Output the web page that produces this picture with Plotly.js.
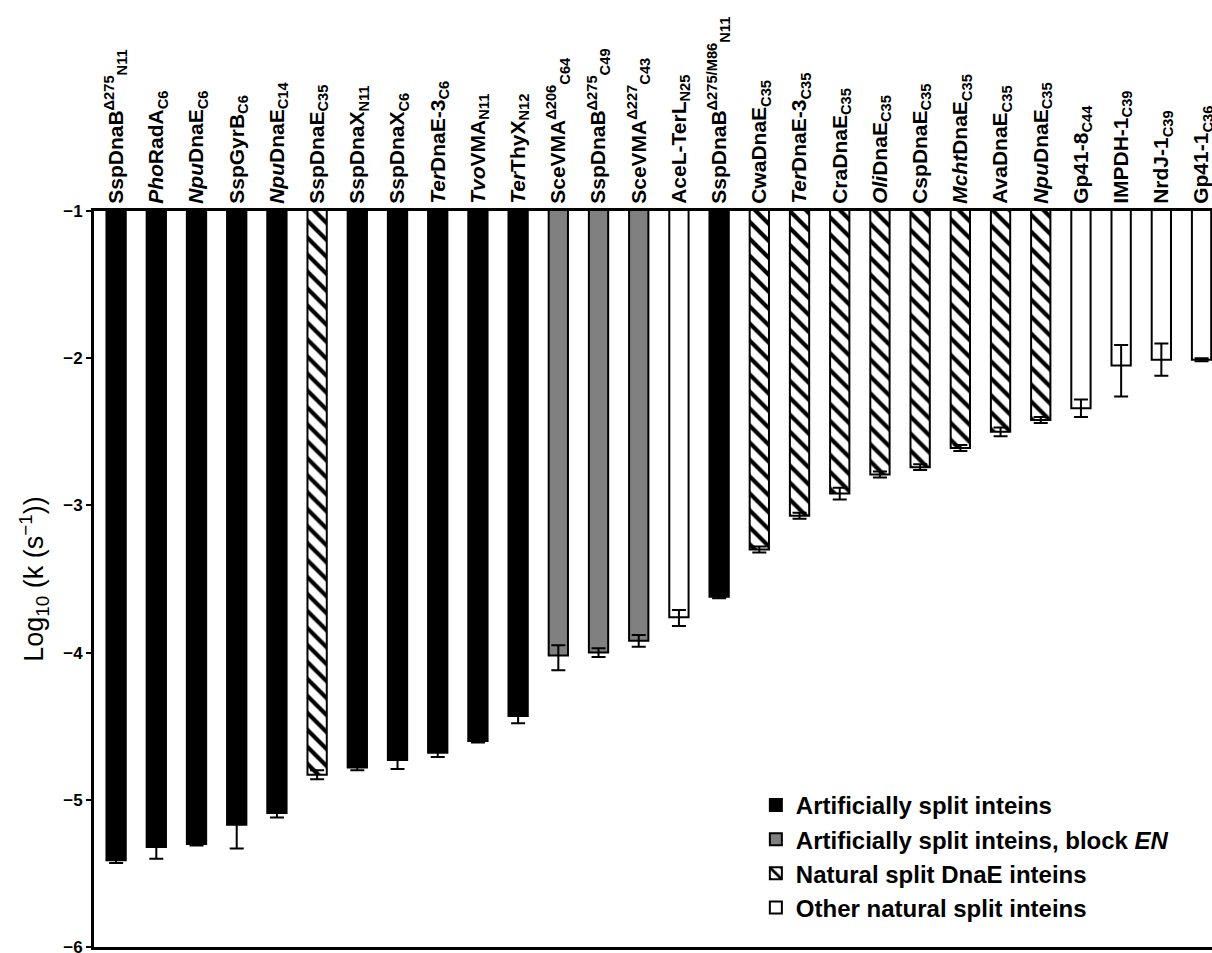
<!DOCTYPE html>
<html>
<head>
<meta charset="utf-8">
<script src="https://cdn.plot.ly/plotly-3.0.1.min.js"></script>
<style>
html,body{margin:0;padding:0;background:#fff;}
#chart{width:1212px;height:953px;}
</style>
</head>
<body>
<div id="chart"></div>
<script>
// Category tick labels (left to right)
const categories = [
  "SspDnaB<sup>Δ275</sup><sub>N11</sub>",
  "<i>Pho</i>RadA<sub>C6</sub>",
  "<i>Npu</i>DnaE<sub>C6</sub>",
  "SspGyrB<sub>C6</sub>",
  "<i>Npu</i>DnaE<sub>C14</sub>",
  "SspDnaE<sub>C35</sub>",
  "SspDnaX<sub>N11</sub>",
  "SspDnaX<sub>C6</sub>",
  "<i>Ter</i>DnaE-3<sub>C6</sub>",
  "<i>Tvo</i>VMA<sub>N11</sub>",
  "<i>Ter</i>ThyX<sub>N12</sub>",
  "SceVMA<sup>Δ206</sup><sub>C64</sub>",
  "SspDnaB<sup>Δ275</sup><sub>C49</sub>",
  "SceVMA<sup>Δ227</sup><sub>C43</sub>",
  "AceL-TerL<sub>N25</sub>",
  "SspDnaB<sup>Δ275/M86</sup><sub>N11</sub>",
  "CwaDnaE<sub>C35</sub>",
  "<i>Ter</i>DnaE-3<sub>C35</sub>",
  "CraDnaE<sub>C35</sub>",
  "<i>Oli</i>DnaE<sub>C35</sub>",
  "CspDnaE<sub>C35</sub>",
  "<i>Mcht</i>DnaE<sub>C35</sub>",
  "AvaDnaE<sub>C35</sub>",
  "<i>Npu</i>DnaE<sub>C35</sub>",
  "Gp41-8<sub>C44</sub>",
  "IMPDH-1<sub>C39</sub>",
  "NrdJ-1<sub>C39</sub>",
  "Gp41-1<sub>C36</sub>"
];
// log10(k) values
const logK = [-5.41,-5.32,-5.30,-5.17,-5.09,-4.83,-4.78,-4.73,-4.68,-4.60,-4.43,
              -4.02,-4.00,-3.92,-3.76,-3.62,-3.30,-3.07,-2.92,-2.79,-2.74,-2.61,
              -2.50,-2.42,-2.34,-2.05,-2.01,-2.01];
const errUp   = [0.02,0.08,0.01,0.16,0.03,0.03,0.02,0.06,0.03,0.01,0.05,
                 0.07,0.03,0.04,0.05,0.01,0.02,0.02,0.04,0.02,0.02,0.02,
                 0.03,0.02,0.06,0.14,0.11,0.01];
const errDown = [0.02,0.08,0.01,0.16,0.03,0.03,0.02,0.06,0.03,0.01,0.05,
                 0.10,0.03,0.04,0.06,0.01,0.02,0.02,0.04,0.02,0.02,0.02,
                 0.03,0.02,0.06,0.21,0.11,0.01];
// group index per bar: 0 artificial, 1 artificial block EN, 2 natural DnaE, 3 other natural
const groupOf = [0,0,0,0,0,2,0,0,0,0,0,1,1,1,3,0,2,2,2,2,2,2,2,2,3,3,3,3];
const groupNames = [
  "Artificially split inteins",
  "Artificially split inteins, block <i>EN</i>",
  "Natural split DnaE inteins",
  "Other natural split inteins"
];
const yTicks = [-6,-5,-4,-3,-2,-1];

const styles = [
  {color:"#000000"},
  {color:"#808080"},
  {color:"#ffffff", pattern:{shape:"\\", fgcolor:"#000000", bgcolor:"#ffffff", size:12, solidity:0.35, fillmode:"replace"}},
  {color:"#ffffff"}
];

const traces = groupNames.map((name, g) => {
  const idx = groupOf.map((gg,i)=> gg===g ? i : -1).filter(i=>i>=0);
  return {
    type:"bar",
    name:name,
    legendgroup:"g"+g,
    x: idx.map(i=>categories[i]),
    y: idx.map(i=>logK[i]),
    width:0.48,
    marker: Object.assign({line:{color:"#000000", width:2}}, styles[g]),
    error_y:{type:"data", symmetric:false, array: idx.map(i=>errUp[i]), arrayminus: idx.map(i=>errDown[i]),
             color:"#000000", thickness:2, width:7},
    hoverinfo:"x+y"
  };
});

const font = "Liberation Sans, Arial, Helvetica, sans-serif";
const layout = {
  width:1212, height:953,
  margin:{l:94, r:0, t:211, b:6, pad:0},
  paper_bgcolor:"#ffffff", plot_bgcolor:"#ffffff",
  barmode:"overlay",
  showlegend:true,
  font:{family:font, color:"#000000"},
  xaxis:{
    type:"category",
    categoryorder:"array", categoryarray:categories,
    range:[-0.55, 27.26],
    side:"top",
    tickangle:-90,
    ticks:"",
    showline:true, linecolor:"#000000", linewidth:3, mirror:true,
    showgrid:false, zeroline:false,
    tickfont:{family:font, size:21, color:"#000000", weight:"bold"},
    fixedrange:true
  },
  yaxis:{
    range:[-6,-1],
    tickvals:yTicks,
    ticks:"outside", ticklen:5, tickwidth:2, tickcolor:"#000000",
    ticklabeloverflow:"allow",
    showline:true, linecolor:"#000000", linewidth:3,
    showgrid:false, zeroline:false,
    tickfont:{family:font, size:17, color:"#000000", weight:"bold"},
    title:{text:"Log<sub>10</sub> (k (s<sup>−1</sup>))", font:{family:font, size:27, color:"#000000"}, standoff:12},
    fixedrange:true
  },
  legend:{
    x:0.592, y:0.223, xanchor:"left", yanchor:"top",
    bgcolor:"rgba(0,0,0,0)",
    font:{family:font, size:24, color:"#000000", weight:"bold"},
    tracegroupgap:0,
    traceorder:"grouped"
  }
};

Plotly.newPlot("chart", traces, layout, {displayModeBar:false, staticPlot:true});
</script>
</body>
</html>
